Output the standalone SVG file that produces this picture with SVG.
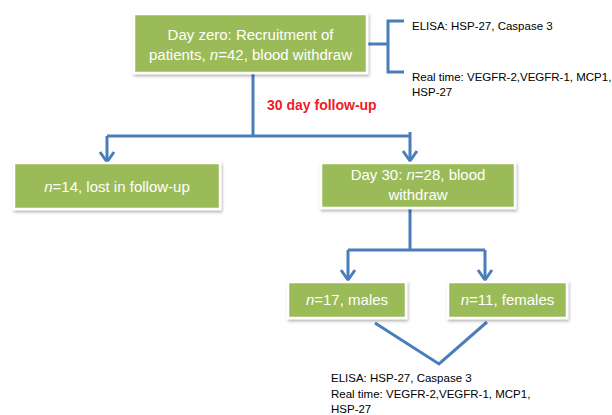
<svg xmlns="http://www.w3.org/2000/svg" width="612" height="415" viewBox="0 0 612 415">
<defs>
<filter id="sh" x="-10%" y="-10%" width="125%" height="140%">
<feDropShadow dx="1" dy="2" stdDeviation="1.5" flood-color="#000" flood-opacity="0.3"/>
</filter>
</defs>
<style>
.box{fill:#9BBB59;stroke:#fff;stroke-width:2.5;filter:url(#sh)}
.bt{font-family:"Liberation Sans",Arial,sans-serif;font-size:15px;fill:#fff;text-anchor:middle}
.st{font-family:"Liberation Sans",Arial,sans-serif;font-size:11.5px;fill:#000}
.red{font-family:"Liberation Sans",Arial,sans-serif;font-size:14px;font-weight:bold;fill:#EE1C25}
.ln{fill:none;stroke:#4A7EBB;stroke-width:3;stroke-linejoin:miter}
</style>
<rect width="612" height="415" fill="#fff"/>
<g id="connectors">
<path class="ln" d="M253,73 V136 M107,136 H410 M107,136 V162 M410,132 V161"/>
<path class="ln" d="M100,152 L107,162 L114,152 M403,151 L410,161 L417,151"/>
<path class="ln" d="M410,208 V250 M348,250 H485 M348,250 V280 M485,250 V280"/>
<path class="ln" d="M341,270 L348,280 L355,270 M478,270 L485,280 L492,270"/>
<path class="ln" d="M368,44 H388 M404,21 H388 V72 H404"/>
<path class="ln" d="M375,323 L439,364 L487,322"/>
</g>
<g id="top">
<rect class="box" x="134" y="14" width="233" height="59"/>
<text class="bt" x="250.5" y="40">Day zero: Recruitment of</text>
<text class="bt" x="250.5" y="60">patients, <tspan font-style="italic">n</tspan>=42, blood withdraw</text>
</g>
<g id="top-markers">
<text class="st" x="412" y="30">ELISA: HSP-27, Caspase 3</text>
<text class="st" x="412" y="81">Real time: VEGFR-2,VEGFR-1, MCP1,</text>
<text class="st" x="412" y="96">HSP-27</text>
</g>
<g id="followup">
<text class="red" x="267" y="110">30 day follow-up</text>
</g>
<g id="lost">
<rect class="box" x="14" y="163" width="206" height="46"/>
<text class="bt" x="117" y="192"><tspan font-style="italic">n</tspan>=14,  lost in follow-up</text>
</g>
<g id="day30">
<rect class="box" x="321" y="163" width="194" height="45"/>
<text class="bt" x="418" y="180">Day 30: <tspan font-style="italic">n</tspan>=28, blood</text>
<text class="bt" x="418" y="200">withdraw</text>
</g>
<g id="males">
<rect class="box" x="288" y="282" width="118" height="36"/>
<text class="bt" x="347" y="305"><tspan font-style="italic">n</tspan>=17, males</text>
</g>
<g id="females">
<rect class="box" x="448" y="282" width="119" height="36"/>
<text class="bt" x="507.5" y="305"><tspan font-style="italic">n</tspan>=11, females</text>
</g>
<g id="bottom-markers">
<text class="st" x="331" y="382">ELISA: HSP-27, Caspase 3</text>
<text class="st" x="331" y="398">Real time: VEGFR-2,VEGFR-1, MCP1,</text>
<text class="st" x="331" y="413">HSP-27</text>
</g>
</svg>
